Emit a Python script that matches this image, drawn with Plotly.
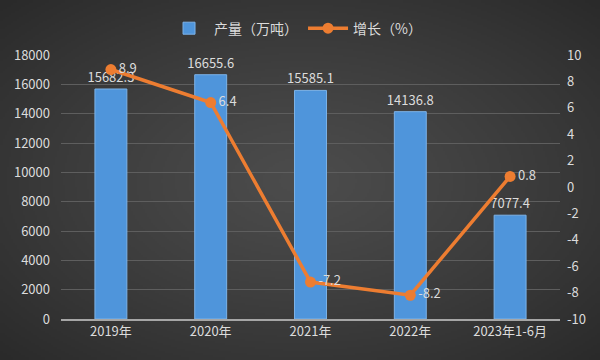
import plotly.graph_objects as go
import numpy as np
import zlib, struct, base64

categories = ["2019年", "2020年", "2021年", "2022年", "2023年1-6月"]
output_wt = [15682.3, 16655.6, 15585.1, 14136.8, 7077.4]
growth_pct = [8.9, 6.4, -7.2, -8.2, 0.8]
output_labels = ["15682.3", "16655.6", "15585.1", "14136.8", "7077.4"]
growth_labels = ["8.9", "6.4", "-7.2", "-8.2", "0.8"]
right_ticks = [10, 8, 6, 4, 2, 0, -2, -4, -6, -8, -10]
right_tick_text = ["10", "8", "6", "4", "2", "0", "-2", "-4", "-6", "-8", "-10"]

font_family = "Noto Sans CJK SC, Noto Sans, sans-serif"
txt = "#dcdcdc"

# radial gradient background image (style only)
W, H = 300, 180
yy, xx = np.mgrid[0:H, 0:W]
d = np.sqrt(((xx - W / 2) / (W / 2)) ** 2 + ((yy - H / 2) / (H / 2)) ** 2) / np.sqrt(2)
v = (76 - 34 * d ** 1.2).clip(0, 255).astype(np.uint8)
raw = b"".join(b"\x00" + bytes(np.stack([v[r], v[r], v[r]], axis=1).flatten()) for r in range(H))
def chunk(t, data):
    c = struct.pack(">I", len(data)) + t + data
    return c + struct.pack(">I", zlib.crc32(t + data) & 0xffffffff)
png = b"\x89PNG\r\n\x1a\n" + chunk(b"IHDR", struct.pack(">IIBBBBB", W, H, 8, 2, 0, 0, 0)) \
    + chunk(b"IDAT", zlib.compress(raw)) + chunk(b"IEND", b"")
bg_uri = "data:image/png;base64," + base64.b64encode(png).decode()

fig = go.Figure()
fig.add_trace(go.Bar(
    x=categories, y=output_wt, name="产量（万吨）",
    marker=dict(color="#4f95db", line=dict(color="#7db3e8", width=1)),
    text=output_labels, textposition="outside", cliponaxis=False, constraintext="none",
    textfont=dict(color=txt, size=13), yaxis="y",
))
fig.add_trace(go.Scatter(
    x=categories, y=growth_pct, name="增长（%）", mode="lines+markers+text",
    line=dict(color="#ed7d31", width=3.5), marker=dict(color="#ed7d31", size=11),
    text=growth_labels, textposition="middle right", cliponaxis=False,
    textfont=dict(color=txt, size=13), yaxis="y2",
))
fig.update_layout(
    width=600, height=360,
    margin=dict(l=61, r=40, t=55, b=41, autoexpand=False),
    paper_bgcolor="#3c3c3c", plot_bgcolor="rgba(0,0,0,0)",
    images=[dict(source=bg_uri, xref="paper", yref="paper", x=-61/499, y=1+55/264,
                 sizex=600/499, sizey=360/264, xanchor="left", yanchor="top",
                 sizing="stretch", layer="below")],
    font=dict(family=font_family, color=txt, size=13),
    bargap=0.68,
    showlegend=True,
    legend=dict(orientation="h", x=0.47, xanchor="center", y=1.1, yanchor="middle",
                font=dict(size=14, color=txt), bgcolor="rgba(0,0,0,0)",
                itemwidth=40),
    xaxis=dict(showgrid=False, showline=True, linecolor="#a6a6a6", linewidth=1.5,
               tickfont=dict(size=13, color=txt), ticks="", automargin=False),
    yaxis=dict(range=[0, 18000], dtick=2000, tickformat="d", showgrid=True,
               gridcolor="#5e5e5e", gridwidth=1, zeroline=False,
               tickfont=dict(size=13, color=txt), ticklabelstandoff=10, automargin=False),
    yaxis2=dict(range=[-10, 10], tickvals=right_ticks, ticktext=right_tick_text,
                overlaying="y", side="right", showgrid=False,
                zeroline=False, tickfont=dict(size=13, color=txt), ticklabelstandoff=6,
                automargin=False),
)
fig.write_html("out.html", config={"displayModeBar": False},
               post_script="document.body.style.margin='0';document.body.style.background='#3c3c3c';")
